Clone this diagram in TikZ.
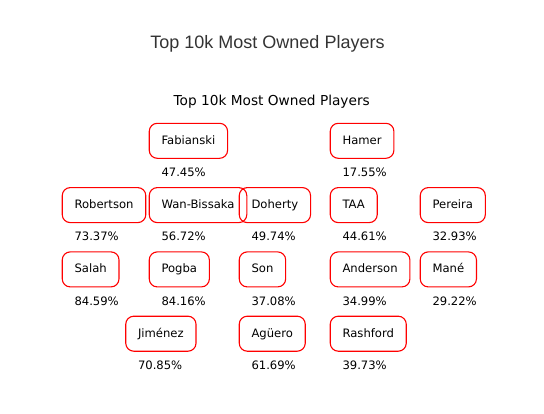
\documentclass[tikz,border=0pt]{standalone}
\usepackage{fontspec}
\setmainfont{DejaVu Sans}
\newfontfamily\titlefont{Liberation Sans}
\begin{document}
\begin{tikzpicture}[x=1pt,y=-1pt,
  player/.style={draw=red, line width=1.1pt, rounded corners=8pt, inner xsep=12.3pt, inner ysep=0pt,
    minimum height=35pt, text height=8pt, text depth=1pt, anchor=base west,
    font=\fontsize{11.6}{13}\selectfont},
  pct/.style={inner sep=0pt, anchor=base west, font=\fontsize{11.6}{13}\selectfont}]
\useasboundingbox (0,0) rectangle (544,413);
\node[font=\titlefont\fontsize{18}{20}\selectfont, text=black!80, anchor=base, inner sep=0pt] (title) at (267.5,48.3) {Top 10k Most Owned Players};
\node[font=\fontsize{13.7}{16}\selectfont, anchor=base, inner sep=0pt] (sub) at (271.7,105) {Top 10k Most Owned Players};
\foreach \id/\name/\x/\y/\p in {
  fab/Fabianski/161/140.8/47.45,
  ham/Hamer/342/140.8/17.55,
  rob/Robertson/74/205.1/73.37,
  wan/Wan-Bissaka/161/205.1/56.72,
  doh/Doherty/251/205.1/49.74,
  taa/TAA/342/205.1/44.61,
  per/Pereira/432/205.1/32.93,
  sal/Salah/74/269.4/84.59,
  pog/Pogba/161/269.4/84.16,
  son/Son/251/269.4/37.08,
  and/Anderson/342/269.4/34.99,
  man/Mané/432/269.4/29.22,
  jim/Jiménez/137.5/333.7/70.85,
  agu/Agüero/251/333.7/61.69,
  ras/Rashford/342/333.7/39.73}{
  \node[player] (\id) at (\x-12.3,\y+3.5) {\name};
  \node[pct] (\id-p) at (\x+0.3,\y+35.8) {\p\%};
}
\end{tikzpicture}
\end{document}
